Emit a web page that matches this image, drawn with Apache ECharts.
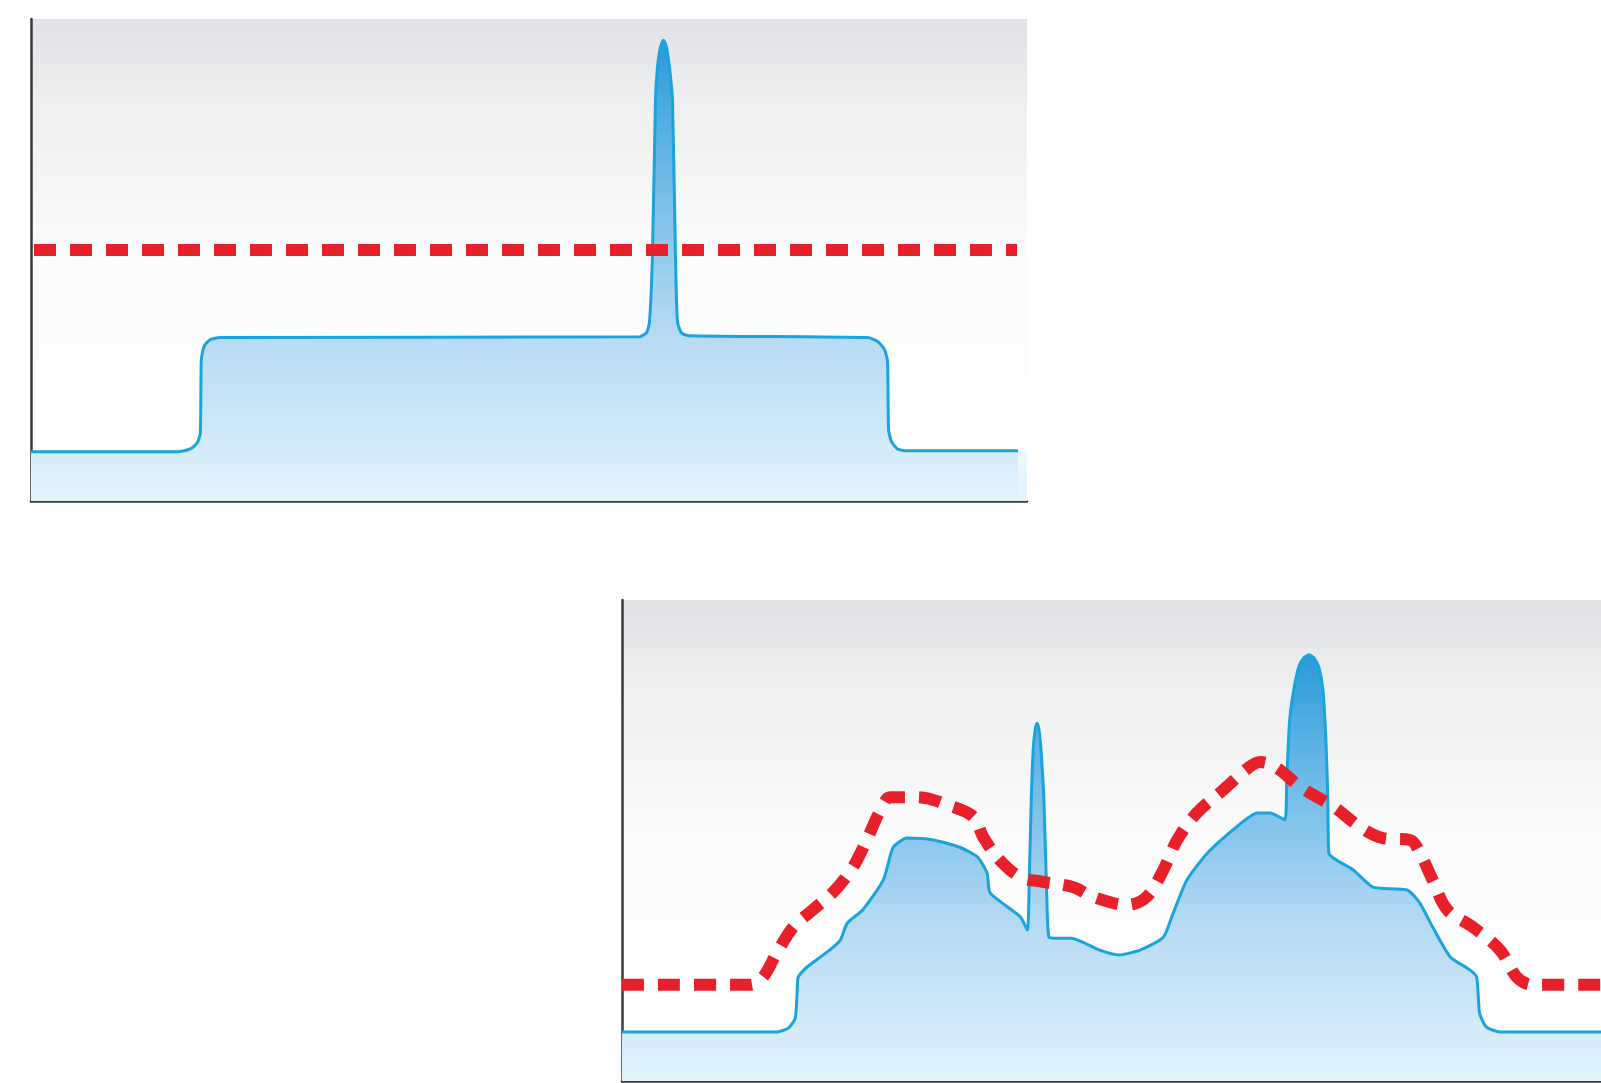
<!DOCTYPE html>
<html>
<head>
<meta charset="utf-8">
<style>
html,body{margin:0;padding:0;background:#fff;}
#chart{width:1601px;height:1083px;}
</style>
<script src="https://cdn.jsdelivr.net/npm/echarts@6/dist/echarts.min.js"></script>
</head>
<body>
<div id="chart"></div>
<script>
// Panel 1 (top): signal with a single narrow spike, and a flat threshold
const topSignalX = [0,14.7,16.0,16.7,17.0,17.1,17.4,18.0,19.0,61.1,61.8,62.1,62.4,62.7,62.9,63.2,63.5,63.8,64.1,64.4,64.7,64.9,65.3,66.0,84.0,85.0,85.7,86.0,86.1,86.4,87.0,87.9,99.1];
const topSignalY = [10.2,10.2,10.8,12.1,14.1,29.3,32.2,33.5,33.9,34.1,34.9,37.2,51.6,83.4,90.0,94.2,95.6,94.2,90.0,83.4,51.6,37.2,34.9,34.3,33.9,33.1,31.4,28.9,14.8,12.3,10.8,10.4,10.4];
const topThresholdX = [0.3,99.0];
const topThresholdY = [52.1,52.1];
const topFloorX = [99.1,100];
const topFloorY = [10.4,10.4];

// Panel 2 (bottom): varying background signal with two spikes, and an adaptive threshold
const botSignalX = [0,15.8,17.0,17.7,17.9,18.0,18.9,21.2,22.3,23.0,24.6,26.7,27.7,29.1,31.8,34.5,36.3,37.3,37.6,40.7,41.4,41.6,41.8,42.0,42.2,42.4,42.6,42.8,43.1,43.4,43.6,44.2,45.9,48.8,50.8,52.9,55.3,56.3,57.7,59.8,62.4,64.9,66.2,67.7,67.9,68.2,68.7,69.2,69.7,70.2,70.7,71.2,71.6,71.9,72.1,72.2,74.7,76.7,80.2,81.5,82.8,84.6,86.6,87.3,87.6,88.3,89.7,100];
const botSignalY = [10.2,10.2,11.0,13.1,18.9,21.6,23.7,27.2,29.3,32.8,35.6,41.8,48.6,50.5,50.1,48.6,46.6,43.2,39.1,34.1,31.4,41.8,58.4,68.8,73.0,74.4,73.0,68.8,58.4,37.6,29.9,29.7,29.7,27.2,26.2,27.2,29.9,34.9,41.8,47.4,52.2,55.7,55.7,54.3,62.6,75.1,82.3,86.5,88.1,88.6,87.9,85.9,81.3,70.9,58.4,47.4,43.9,40.3,39.7,37.0,32.0,25.8,23.1,21.6,14.1,11.2,10.2,10.2];
const botThresholdX = [0,13.1,14.4,15.8,17.5,19.5,21.6,23.6,25.0,26.4,27.4,30.1,33.8,35.9,36.9,38.6,40.7,43.0,46.1,48.1,51.6,53.6,55.3,56.7,58.7,61.4,64.1,65.2,66.9,69.3,72.7,75.4,77.7,80.5,81.5,82.8,84.3,86.9,89.7,91.4,93.0,100];
const botThresholdY = [20.0,20.0,21.6,26.6,32.0,35.6,39.3,44.5,50.1,56.3,59.0,59.0,57.0,54.9,50.7,45.9,42.4,41.4,40.3,38.3,36.6,38.3,43.9,50.1,55.7,60.5,65.3,66.3,65.1,61.1,57.0,52.8,50.5,50.1,47.4,41.8,35.6,32.0,27.2,21.6,20.0,20.0];

function zip(xs, ys){ return xs.map((x,i)=>[x, ys[i]]); }

const bgGradient = {type:'linear',x:0,y:0,x2:0,y2:1,colorStops:[
  {offset:0,color:'#e2e3e6'},{offset:0.2,color:'#eff0f1'},{offset:0.5,color:'#fcfcfc'},{offset:1,color:'#ffffff'}]};
const areaGradient = {type:'linear',x:0,y:0,x2:0,y2:1,colorStops:[
  {offset:0,color:'#2a9bd9'},{offset:0.3,color:'#6fbbe8'},{offset:0.62,color:'#b3d9f2'},{offset:1,color:'#e3f3fc'}]};
const floorGradient = {type:'linear',x:0,y:0,x2:0,y2:1,colorStops:[
  {offset:0,color:'#eef8fd'},{offset:1,color:'#e3f3fc'}]};

const axisLine = {show:true,lineStyle:{color:'#3a3a3a',width:2.5}};
function xAx(gi){ return {type:'value',gridIndex:gi,min:0,max:100,axisLine:axisLine,axisTick:{show:false},axisLabel:{show:false},splitLine:{show:false}}; }
function yAx(gi){ return {type:'value',gridIndex:gi,min:0,max:100,axisLine:axisLine,axisTick:{show:false},axisLabel:{show:false},splitLine:{show:false}}; }

const signalStyle = {color:'#1ba3dd',width:3};
const threshStyle = {color:'#e8202a',width:12,type:[22,14],cap:'butt'};

const option = {
  animation:false,
  backgroundColor:'#ffffff',
  grid:[
    {left:31,top:19,width:996,height:482,show:true,backgroundColor:bgGradient,borderWidth:0},
    {left:622,top:600,width:979,height:481,show:true,backgroundColor:bgGradient,borderWidth:0}
  ],
  xAxis:[xAx(0),xAx(1)],
  yAxis:[yAx(0),yAx(1)],
  series:[
    {type:'line',xAxisIndex:0,yAxisIndex:0,data:zip(topFloorX,topFloorY),showSymbol:false,
     lineStyle:{width:0,opacity:0},areaStyle:{color:floorGradient,opacity:1},z:1},
    {type:'line',xAxisIndex:0,yAxisIndex:0,data:zip(topSignalX,topSignalY),showSymbol:false,smooth:0.2,
     lineStyle:signalStyle,areaStyle:{color:areaGradient,opacity:1},z:2},
    {type:'line',xAxisIndex:0,yAxisIndex:0,data:zip(topThresholdX,topThresholdY),showSymbol:false,
     lineStyle:threshStyle,z:3},
    {type:'line',xAxisIndex:1,yAxisIndex:1,data:zip(botSignalX,botSignalY),showSymbol:false,smooth:0.2,
     lineStyle:signalStyle,areaStyle:{color:areaGradient,opacity:1},z:2},
    {type:'line',xAxisIndex:1,yAxisIndex:1,data:zip(botThresholdX,botThresholdY),showSymbol:false,smooth:0.35,
     lineStyle:threshStyle,z:3}
  ]
};
const chart = echarts.init(document.getElementById('chart'));
chart.setOption(option);
</script>
</body>
</html>
